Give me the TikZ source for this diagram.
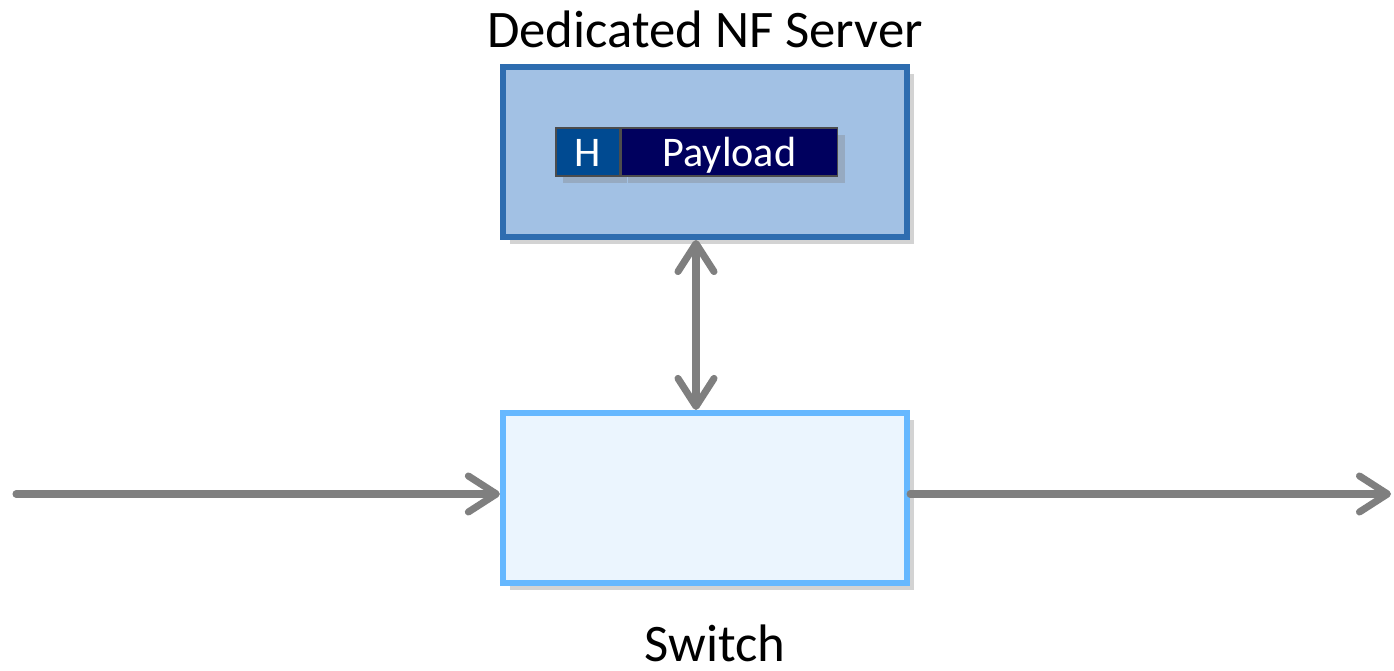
\documentclass[tikz,border=0pt]{standalone}
\usepackage{fontspec}
\setmainfont{Carlito}
\usetikzlibrary{positioning, arrows.meta, shadows}

\definecolor{serverline}{HTML}{2E6DB0}
\definecolor{serverfill}{HTML}{A2C1E4}
\definecolor{switchline}{HTML}{66B8FF}
\definecolor{switchfill}{HTML}{EBF5FE}
\definecolor{headfill}{HTML}{004A91}
\definecolor{loadfill}{HTML}{00005E}
\definecolor{linkgray}{HTML}{7F7F7F}

\tikzset{
  box/.style={draw, line width=1.7pt, minimum width=4.04cm, minimum height=1.7cm,
    drop shadow={opacity=0.35, shadow xshift=2pt, shadow yshift=-2pt}},
  pkt/.style={draw=black!70, line width=0.4pt, minimum height=0.48cm, inner sep=0pt,
    text=white, font=\fontsize{12}{14}\selectfont, text height=10pt, text depth=2pt,
    drop shadow={opacity=0.35, shadow xshift=2pt, shadow yshift=-2pt}},
  link/.style={draw=linkgray, line width=2pt, line cap=round,
    -{Straight Barb[length=2.8mm, width=3.6mm, round]}},
  title/.style={font=\fontsize{15}{18}\selectfont, anchor=base}
}

\begin{document}
\begin{tikzpicture}[x=0.01cm, y=-0.01cm]

\useasboundingbox (0,0) rectangle (1394,671);

% boxes
\node[box, draw=serverline, fill=serverfill] (server) at (705,152) {};
\node[box, draw=switchline, fill=switchfill] (switch) at (705,498) {};

% packet
\node[pkt, fill=headfill, minimum width=0.64cm] (head) at (588,152) {H};
\node[pkt, fill=loadfill, minimum width=2.16cm, right=0pt of head] (load) {Payload};

% labels
\node[title] (servername) at (705,48) {Dedicated NF Server};
\node[title] (switchname) at (715,662) {Switch};

% links
\coordinate (in) at (16,494);
\coordinate (out) at (1391,494);
\draw[link] (in) -- (switch.west |- in);
\draw[link] (switch.east |- out) -- (out);
\draw[link, {Straight Barb[length=2.8mm, width=3.6mm, round]}-{Straight Barb[length=2.8mm, width=3.6mm, round]}]
  ([xshift=-0.09cm]server.south) -- ([xshift=-0.09cm]switch.north);

\end{tikzpicture}
\end{document}
